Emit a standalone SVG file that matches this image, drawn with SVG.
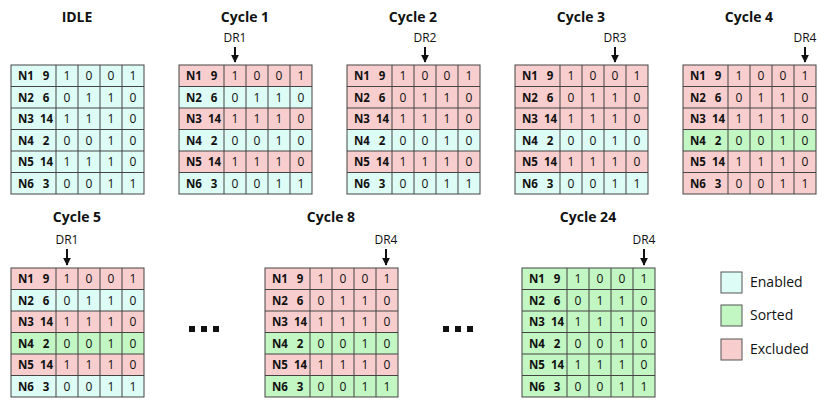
<svg xmlns="http://www.w3.org/2000/svg" xmlns:xlink="http://www.w3.org/1999/xlink" width="830" height="404" viewBox="0 0 830 404">
<style>
.e{fill:#ddfcf5}.s{fill:#c2f6c2}.x{fill:#f8cdcd}
.g{stroke:#444;stroke-width:1;fill:none}
text{font-family:"Open Sans","Liberation Sans",sans-serif;fill:#111}
.n{font-size:11.5px;font-weight:bold}
.d{font-size:12px;text-anchor:middle}
.t{font-size:14px;font-weight:bold;text-anchor:middle}
.r{font-size:12px;text-anchor:middle}
.l{font-size:14px}
.a{stroke:#111;stroke-width:2}
.dot{fill:#111}
</style>
<defs>
<marker id="ah" viewBox="0 0 10 10" refX="9" refY="5" markerWidth="4" markerHeight="4" orient="auto"><path d="M0,0L10,5L0,10z" fill="#111"/></marker>
<g id="grid">
<rect class="g" x="0" y="0" width="133" height="129"/>
<path class="g" d="M45,0V129M67,0V129M89,0V129M111,0V129M0,21.5H133M0,43H133M0,64.5H133M0,86H133M0,107.5H133"/>
<g class="n"><text x="7" y="15">N1</text><text x="7" y="36.5">N2</text><text x="7" y="58">N3</text><text x="7" y="79.5">N4</text><text x="7" y="101">N5</text><text x="7" y="122.5">N6</text></g>
<g class="n" text-anchor="middle"><text x="35" y="15">9</text><text x="35" y="36.5">6</text><text x="35.5" y="58">14</text><text x="35" y="79.5">2</text><text x="35.5" y="101">14</text><text x="35" y="122.5">3</text></g>
<g class="d"><text x="56" y="15">1</text><text x="78" y="15">0</text><text x="100" y="15">0</text><text x="122" y="15">1</text>
<text x="56" y="36.5">0</text><text x="78" y="36.5">1</text><text x="100" y="36.5">1</text><text x="122" y="36.5">0</text>
<text x="56" y="58">1</text><text x="78" y="58">1</text><text x="100" y="58">1</text><text x="122" y="58">0</text>
<text x="56" y="79.5">0</text><text x="78" y="79.5">0</text><text x="100" y="79.5">1</text><text x="122" y="79.5">0</text>
<text x="56" y="101">1</text><text x="78" y="101">1</text><text x="100" y="101">1</text><text x="122" y="101">0</text>
<text x="56" y="122.5">0</text><text x="78" y="122.5">0</text><text x="100" y="122.5">1</text><text x="122" y="122.5">1</text></g>
</g>
</defs>
<rect width="830" height="404" fill="#fff"/>

<g id="idle" transform="translate(11,65)">
<text class="t" x="66" y="-43">IDLE</text>
<rect class="e" x="0" y="0" width="133" height="129"/>
<use xlink:href="#grid"/>
</g>
<g id="cycle1" transform="translate(179,65)">
<text class="t" x="66" y="-43">Cycle 1</text><text class="r" x="56" y="-23">DR1</text>
<rect class="x" y="0" width="133" height="21.5"/><rect class="e" y="21.5" width="133" height="21.5"/><rect class="x" y="43" width="133" height="21.5"/><rect class="e" y="64.5" width="133" height="21.5"/><rect class="x" y="86" width="133" height="21.5"/><rect class="e" y="107.5" width="133" height="21.5"/>
<use xlink:href="#grid"/>
</g>
<g id="cycle2" transform="translate(347,65)">
<text class="t" x="66" y="-43">Cycle 2</text><text class="r" x="78" y="-23">DR2</text>
<rect class="x" y="0" width="133" height="21.5"/><rect class="x" y="21.5" width="133" height="21.5"/><rect class="x" y="43" width="133" height="21.5"/><rect class="e" y="64.5" width="133" height="21.5"/><rect class="x" y="86" width="133" height="21.5"/><rect class="e" y="107.5" width="133" height="21.5"/>
<use xlink:href="#grid"/>
</g>
<g id="cycle3" transform="translate(515,65)">
<text class="t" x="66" y="-43">Cycle 3</text><text class="r" x="100" y="-23">DR3</text>
<rect class="x" y="0" width="133" height="21.5"/><rect class="x" y="21.5" width="133" height="21.5"/><rect class="x" y="43" width="133" height="21.5"/><rect class="e" y="64.5" width="133" height="21.5"/><rect class="x" y="86" width="133" height="21.5"/><rect class="e" y="107.5" width="133" height="21.5"/>
<use xlink:href="#grid"/>
</g>
<g id="cycle4" transform="translate(683,65)">
<text class="t" x="66" y="-43">Cycle 4</text><text class="r" x="122" y="-23">DR4</text>
<rect class="x" y="0" width="133" height="21.5"/><rect class="x" y="21.5" width="133" height="21.5"/><rect class="x" y="43" width="133" height="21.5"/><rect class="s" y="64.5" width="133" height="21.5"/><rect class="x" y="86" width="133" height="21.5"/><rect class="x" y="107.5" width="133" height="21.5"/>
<use xlink:href="#grid"/>
</g>
<g id="cycle5" transform="translate(11,268)">
<text class="t" x="66" y="-46">Cycle 5</text><text class="r" x="56" y="-24">DR1</text>
<rect class="x" y="0" width="133" height="21.5"/><rect class="e" y="21.5" width="133" height="21.5"/><rect class="x" y="43" width="133" height="21.5"/><rect class="s" y="64.5" width="133" height="21.5"/><rect class="x" y="86" width="133" height="21.5"/><rect class="e" y="107.5" width="133" height="21.5"/>
<use xlink:href="#grid"/>
</g>
<g id="cycle8" transform="translate(265,268)">
<text class="t" x="66" y="-46">Cycle 8</text><text class="r" x="121" y="-24">DR4</text>
<rect class="x" y="0" width="133" height="21.5"/><rect class="x" y="21.5" width="133" height="21.5"/><rect class="x" y="43" width="133" height="21.5"/><rect class="s" y="64.5" width="133" height="21.5"/><rect class="x" y="86" width="133" height="21.5"/><rect class="s" y="107.5" width="133" height="21.5"/>
<use xlink:href="#grid"/>
</g>
<g id="cycle24" transform="translate(522,268)">
<text class="t" x="66" y="-46">Cycle 24</text><text class="r" x="122" y="-24">DR4</text>
<rect class="s" y="0" width="133" height="129"/>
<use xlink:href="#grid"/>
</g>

<g id="connectors">
<line class="a" x1="235" y1="47" x2="235" y2="62" marker-end="url(#ah)"/>
<line class="a" x1="425" y1="47" x2="425" y2="62" marker-end="url(#ah)"/>
<line class="a" x1="615" y1="47" x2="615" y2="62" marker-end="url(#ah)"/>
<line class="a" x1="805" y1="47" x2="805" y2="62" marker-end="url(#ah)"/>
<line class="a" x1="67" y1="249" x2="67" y2="265" marker-end="url(#ah)"/>
<line class="a" x1="386" y1="249" x2="386" y2="265" marker-end="url(#ah)"/>
<line class="a" x1="644" y1="249" x2="644" y2="265" marker-end="url(#ah)"/>
</g>

<g id="ellipsis1" class="dot"><rect x="189" y="326" width="6" height="6"/><rect x="201" y="326" width="6" height="6"/><rect x="213" y="326" width="6" height="6"/></g>
<g id="ellipsis2" class="dot"><rect x="443" y="326" width="6" height="6"/><rect x="455" y="326" width="6" height="6"/><rect x="467" y="326" width="6" height="6"/></g>

<g id="legend">
<rect class="e" x="721" y="272" width="21" height="21" stroke="#555"/><text class="l" x="750" y="287">Enabled</text>
<rect class="s" x="721" y="305" width="21" height="21" stroke="#555"/><text class="l" x="750" y="320">Sorted</text>
<rect class="x" x="721" y="339" width="21" height="21" stroke="#555"/><text class="l" x="750" y="354">Excluded</text>
</g>
</svg>
